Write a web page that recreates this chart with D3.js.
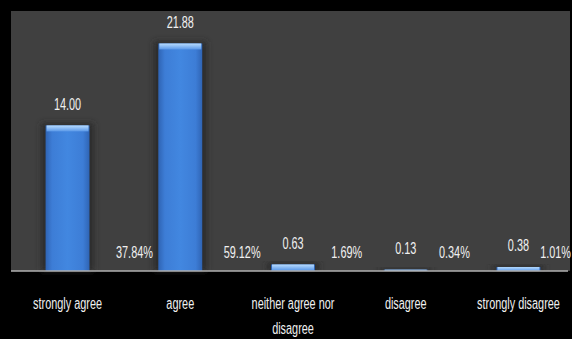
<!DOCTYPE html>
<html><head><meta charset="utf-8">
<script src="https://cdn.jsdelivr.net/npm/d3@7"></script>
<style>html,body{margin:0;padding:0;background:#000;}svg{display:block;}</style>
</head><body>
<script>
const categories = ["strongly agree", "agree", "neither agree nor disagree", "disagree", "strongly disagree"];
const values = [14.00, 21.88, 0.63, 0.13, 0.38];
const valueLabels = ["14.00", "21.88", "0.63", "0.13", "0.38"];
const percentLabels = ["37.84%", "59.12%", "1.69%", "0.34%", "1.01%"];
const categoryLines = [["strongly agree"], ["agree"], ["neither agree nor", "disagree"], ["disagree"], ["strongly disagree"]];

const W = 572, H = 339;
const plot = {left: 11, right: 570, top: 11, bottom: 271};
const svg = d3.select("body").append("svg").attr("width", W).attr("height", H);
svg.append("rect").attr("width", W).attr("height", H).attr("fill", "#000");
svg.append("rect").attr("x", plot.left).attr("y", plot.top)
  .attr("width", plot.right - plot.left).attr("height", plot.bottom - plot.top).attr("fill", "#404040");

const x = d3.scaleBand().domain(categories).range([plot.left + 3, plot.right + 2]).paddingInner(0.61).paddingOuter(0.28);
const y = d3.scaleLinear().domain([0, 25]).range([plot.bottom, plot.top]);

const defs = svg.append("defs");
const gH = defs.append("linearGradient").attr("id", "gh").attr("x1", 0).attr("x2", 1).attr("y1", 0).attr("y2", 0);
[[0, "#2f64b4"], [0.15, "#3d7dd6"], [0.5, "#4287e0"], [0.85, "#3d7dd6"], [1, "#2f64b4"]]
  .forEach(([o, c]) => gH.append("stop").attr("offset", o).attr("stop-color", c));
const gT = defs.append("linearGradient").attr("id", "gt").attr("x1", 0).attr("x2", 0).attr("y1", 0).attr("y2", 1);
[[0, "#b8dcff"], [1, "#5a98e8"]].forEach(([o, c]) => gT.append("stop").attr("offset", o).attr("stop-color", c));
const blur = defs.append("filter").attr("id", "sh").attr("x", "-30%").attr("width", "160%");
blur.append("feGaussianBlur").attr("stdDeviation", 3);

const bars = svg.append("g");
bars.selectAll("rect.sh").data(values).join("rect")
  .attr("x", (d, i) => x(categories[i]) - 4).attr("width", x.bandwidth() + 8)
  .attr("y", d => y(d) - 2).attr("height", d => y(0) - y(d) + 2)
  .attr("fill", "#2a2a2a").attr("filter", "url(#sh)");
bars.selectAll("rect.b").data(values).join("rect")
  .attr("x", (d, i) => x(categories[i])).attr("width", x.bandwidth())
  .attr("y", d => y(d)).attr("height", d => y(0) - y(d)).attr("fill", "url(#gh)");
bars.selectAll("rect.t").data(values).join("rect")
  .attr("x", (d, i) => x(categories[i]) + 1).attr("width", x.bandwidth() - 2)
  .attr("y", d => y(d)).attr("height", d => Math.min(6, y(0) - y(d))).attr("fill", "url(#gt)");

svg.append("line").attr("x1", plot.left).attr("x2", plot.right - 2)
  .attr("y1", plot.bottom).attr("y2", plot.bottom).attr("stroke", "#b0b0b0").attr("stroke-width", 1.5);

const font = "'Liberation Sans Narrow', 'Liberation Sans', sans-serif";
const SX = 0.68;
function txt(g, s, tx, ty, size, anchor) {
  return g.append("text").attr("transform", `translate(${tx},${ty}) scale(${SX},1)`)
    .attr("text-anchor", anchor || "middle").attr("dominant-baseline", "central")
    .attr("font-family", font).attr("font-size", size).attr("fill", "#f0f0f0").text(s);
}
const lbl = svg.append("g");
values.forEach((v, i) => {
  const cx = x(categories[i]) + x.bandwidth() / 2;
  txt(lbl, valueLabels[i], cx, y(v) - 21, 16);
  // percentage label: left edge placed after the bar, clamped inside the picture
  const t = txt(lbl, percentLabels[i], 0, 0, 16, "start");
  const w = t.node().getComputedTextLength() * SX;
  let left = cx + x.step() * (0.43 - 0.045 * i);
  left = Math.min(left, W - 1 - w);
  t.attr("transform", `translate(${left},${plot.bottom - 18}) scale(${SX},1)`);
  categoryLines[i].forEach((line, k) => txt(lbl, line, cx, 304 + k * 25, 16));
});
</script>
</body></html>
